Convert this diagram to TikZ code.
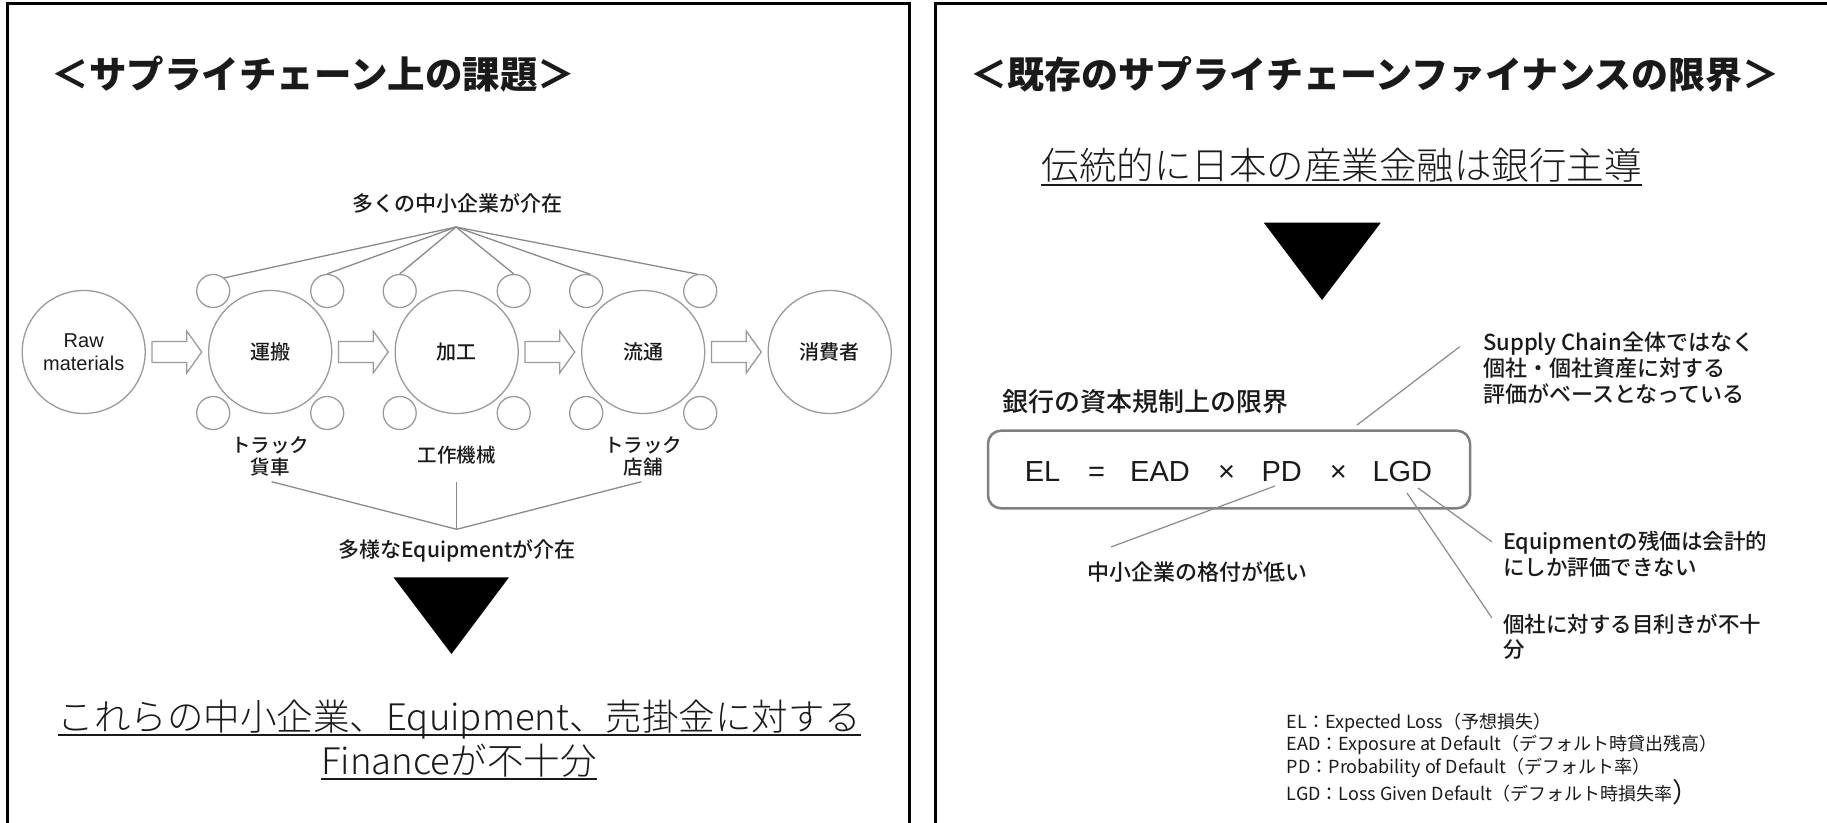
\documentclass[tikz,border=0pt]{standalone}
\usepackage{fontspec}
\setmainfont{Noto Sans CJK JP}
\newfontfamily\latfont{Liberation Sans}
\IfFontExistsTF{Noto Sans CJK JP Light}{\newfontfamily\jplight{Noto Sans CJK JP Light}}{\newfontfamily\jplight{Noto Sans CJK JP}}
\IfFontExistsTF{Noto Sans CJK JP Medium}{\newfontfamily\jpmid{Noto Sans CJK JP Medium}}{\newfontfamily\jpmid{Noto Sans CJK JP}}
\definecolor{circgray}{HTML}{9A9A9A}
\definecolor{linegray}{HTML}{8A8A8A}
\definecolor{boxgray}{HTML}{808080}
\definecolor{ink}{HTML}{1A1A1A}
\tikzset{
  panel/.style={draw=black, line width=3pt},
  bigc/.style={circle, draw=circgray, line width=1.3pt, minimum size=123pt, inner sep=0pt, text=ink, font=\jpmid\fontsize{20}{24}\selectfont},
  smallc/.style={circle, draw=circgray, line width=1.3pt, minimum size=33pt, inner sep=0pt},
  fanline/.style={draw=linegray, line width=1.3pt},
  blockarrow/.style={draw=circgray, line width=1.3pt, fill=white},
  lbl/.style={inner sep=0pt, text=ink},
  uline/.style={draw=ink, line width=1.6pt},
  callout/.style={draw=linegray, line width=1.2pt},
  eqbox/.style={draw=boxgray, line width=2.5pt, rounded corners=13pt, inner sep=0pt},
  formula/.style={inner sep=0pt, text=ink, anchor=base, font=\latfont\fontsize{29}{32}\selectfont},
}
\begin{document}
\begin{tikzpicture}[x=1pt,y=-1pt]
\useasboundingbox (0,0) rectangle (1827,822);
\clip (0,0) rectangle (1827,822);
\fill[white] (0,0) rectangle (1827,822);

% panels
\draw[panel] (7.5,3) rectangle (909,850);
\draw[panel] (935.5,3) rectangle (1850,850);

% ---------------- left panel ----------------
\node[lbl, anchor=base, font=\bfseries\fontsize{37.5}{40}\selectfont] (ltitle) at (313.5,88) {＜サプライチェーン上の課題＞};

\node[lbl, anchor=base, font=\jpmid\fontsize{21}{24}\selectfont] (many) at (457,211.5) {多くの中小企業が介在};

\node[bigc, font=\latfont\fontsize{20}{23.4}\selectfont, align=center] (raw) at (83.7,352) {Raw\\materials};
\node[bigc] (unpan) at (270.2,352) {運搬};
\node[bigc] (kako) at (456.7,352) {加工};
\node[bigc] (ryutsu) at (643.2,352) {流通};
\node[bigc] (shohi) at (829.7,352) {消費者};

\foreach \i/\x in {1/213.2, 2/327.2, 3/399.7, 4/513.7, 5/586.2, 6/700.2} {
  \node[smallc] (su\i) at (\x,291) {};
  \node[smallc] (sd\i) at (\x,413) {};
}

\foreach \x in {152, 338.5, 525, 711.5} {
  \draw[blockarrow] (\x,341.5) -- ({\x+34.7},341.5) -- ({\x+34.7},331) -- ({\x+49.7},352)
    -- ({\x+34.7},373) -- ({\x+34.7},362.5) -- (\x,362.5) -- cycle;
}

\coordinate (apex) at (456,227);
\draw[fanline] (apex) -- (su1.50);
\draw[fanline] (apex) -- (su2.north);
\draw[fanline] (apex) -- (su3.north);
\draw[fanline] (apex) -- (su4.north);
\draw[fanline] (apex) -- (su5.75);
\draw[fanline] (apex) -- (su6.100);

\node[lbl, anchor=base, align=center, font=\jpmid\fontsize{19.5}{22.5}\selectfont] (eq1) at (270.2,474.5) {トラック\\貨車};
\node[lbl, anchor=base, font=\jpmid\fontsize{19.5}{22.5}\selectfont] (eq2) at (456.7,462) {工作機械};
\node[lbl, anchor=base, align=center, font=\jpmid\fontsize{19.5}{22.5}\selectfont] (eq3) at (643.2,474.5) {トラック\\店舗};

\coordinate (l1) at (271.6,481.7);
\coordinate (l2) at (456.8,481.7);
\coordinate (l3) at (641.3,481.7);
\coordinate (apex2) at (456.8,529.3);
\draw[fanline] (l1) -- (apex2) -- (l3);
\draw[fanline] (l2) -- (apex2);

\node[lbl, anchor=base, font=\jpmid\fontsize{21}{24}\selectfont] (equip) at (457,557) {多様なEquipmentが介在};

\fill[black] (393.5,577.3) -- (509,577.3) -- (451.5,654) -- cycle;

\node[lbl, anchor=base, font=\jplight\fontsize{36.5}{40}\selectfont] (concl1) at (459.5,730) {これらの中小企業、Equipment、売掛金に対する};
\node[lbl, anchor=base, font=\jplight\fontsize{36.5}{40}\selectfont] (concl2) at (459,774.5) {Financeが不十分};
\draw[uline] ([yshift=-5pt]concl1.base west) -- ([yshift=-5pt]concl1.base east);
\draw[uline] ([yshift=-4.5pt]concl2.base west) -- ([yshift=-4.5pt]concl2.base east);

% ---------------- right panel ----------------
\node[lbl, anchor=base, font=\bfseries\fontsize{37}{40}\selectfont] (rtitle) at (1375,88) {＜既存のサプライチェーンファイナンスの限界＞};

\node[lbl, anchor=base, font=\jplight\fontsize{37.5}{44}\selectfont] (trad) at (1341.5,179.5) {伝統的に日本の産業金融は銀行主導};
\draw[uline] ([yshift=-5.5pt]trad.base west) -- ([yshift=-5.5pt]trad.base east);

\fill[black] (1263.8,222.7) -- (1380.8,222.7) -- (1322,300) -- cycle;

\node[lbl, anchor=base west, font=\jpmid\fontsize{26}{30}\selectfont] (bank) at (1002,411.5) {銀行の資本規制上の限界};

\node[lbl, anchor=base west, align=left, font=\jpmid\fontsize{22}{26}\selectfont] (sc) at (1483,402) {Supply Chain全体ではなく\\個社・個社資産に対する\\評価がベースとなっている};

\node[eqbox, minimum width=482pt, minimum height=77.6pt] (eqb) at (1229,469.5) {};
\node[formula] (fel) at (1042.5,481.7) {EL};
\node[formula] (feq) at (1096.7,481.7) {=};
\node[formula] (fead) at (1160,481.7) {EAD};
\node[formula] (fx1) at (1226.5,481.7) {×};
\node[formula] (fpd) at (1281.7,481.7) {PD};
\node[formula] (fx2) at (1338.3,481.7) {×};
\node[formula] (flgd) at (1402.3,481.7) {LGD};

\coordinate (scA) at (1459.7,346.7);
\coordinate (scB) at (1357,425);
\draw[callout] (scA) -- (scB);

\coordinate (pdA) at (1275,486);
\coordinate (pdB) at (1111,547);
\draw[callout] (pdA) -- (pdB);
\node[lbl, anchor=base, font=\jpmid\fontsize{22}{26}\selectfont] (pdnote) at (1197,580.5) {中小企業の格付が低い};

\coordinate (lgA1) at (1418,488);
\coordinate (lgB1) at (1492,542);
\coordinate (lgA2) at (1407,493);
\coordinate (lgB2) at (1492,618);
\draw[callout] (lgA1) -- (lgB1);
\draw[callout] (lgA2) -- (lgB2);

\node[lbl, anchor=base west, align=left, font=\jpmid\fontsize{21.5}{26.5}\selectfont] (lgdnote1) at (1503,575.5) {Equipmentの残価は会計的\\にしか評価できない};
\node[lbl, anchor=base west, align=left, font=\jpmid\fontsize{21.5}{25}\selectfont] (lgdnote2) at (1503,657) {個社に対する目利きが不十\\分};

\node[lbl, anchor=base west, align=left, font=\fontsize{18}{22.8}\selectfont] (legend) at (1286.7,800) {EL：Expected Loss（予想損失）\\EAD：Exposure at Default（デフォルト時貸出残高）\\PD：Probability of Default（デフォルト率）\\LGD：Loss Given Default（デフォルト時損失率\raisebox{-2pt}{\fontsize{27}{27}\selectfont ）}};
\end{tikzpicture}
\end{document}
